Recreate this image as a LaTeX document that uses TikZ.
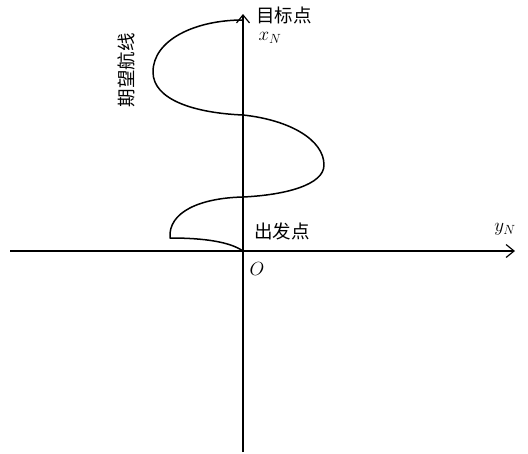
\documentclass[tikz,border=0pt]{standalone}
\usepackage{fix-cm}
\usepackage{fontspec}
\newfontfamily\cjk{Noto Sans CJK SC}
\usetikzlibrary{arrows.meta}
\tikzset{
  axis/.style={
    -{Straight Barb[length=8pt,width=13pt,line width=1.2pt]},
    line width=1.5pt
  },
  route/.style={
    line width=1.5pt,
    line join=round
  },
  tag/.style={
    inner sep=0pt,
    font=\cjk\fontsize{18.5}{21}\selectfont
  },
  sym/.style={
    inner sep=0pt,
    font=\fontsize{19}{21}\selectfont
  }
}
\begin{document}
\begin{tikzpicture}[x=1pt,y=-1pt]
  \useasboundingbox (0,0) rectangle (528,453);

  \coordinate (O) at (243,251);
  \coordinate (left) at (10,251);
  \coordinate (right) at (515,251);
  \coordinate (bottom) at (243,452);
  \coordinate (top) at (243,14);

  % axes
  \draw[axis] (left) -- (right);
  \draw[axis] (bottom) -- (top);

  % desired route
  \coordinate (corner) at (170,238);
  \coordinate (goal) at (243,20);
  \draw[route] (O) .. controls (230,242) and (205,238) .. (corner)
    .. controls (168,212) and (200,198) .. (243,197)
    .. controls (285,195) and (324,185) .. (324,165)
    .. controls (324,140) and (290,120) .. (243,115)
    .. controls (195,113) and (153,100) .. (153,72)
    .. controls (153,40) and (195,20) .. (goal);

  \node[tag, anchor=west] (target) at (256,15) {目标点};
  \node[sym] (xN) at (270,38) {$x_N$};
  \node[tag, rotate=90] (routename) at (126,70) {期望航线};
  \node[tag] (start) at (282,231) {出发点};
  \node[sym] (origin) at (257,269) {$O$};
  \node[sym] (yN) at (505,229) {$y_N$};
\end{tikzpicture}
\end{document}
